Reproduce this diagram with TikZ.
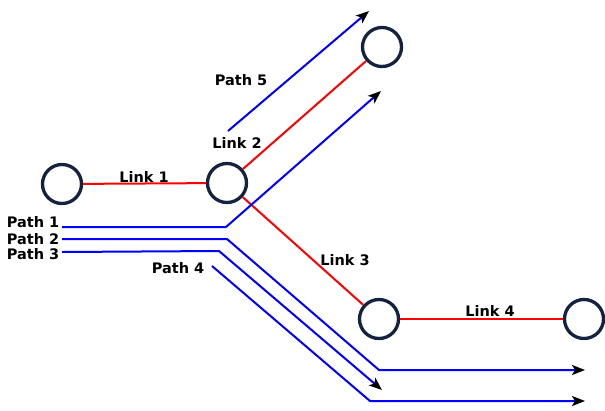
\documentclass[tikz,border=0pt]{standalone}
\usepackage{fontspec}
\setmainfont{DejaVu Sans}
\usetikzlibrary{arrows.meta}
\definecolor{navy}{HTML}{13233F}
\tikzset{
	router/.style={circle, draw=navy, line width=3.3pt, minimum size=39pt, inner sep=0pt},
	link/.style={red, line width=2pt},
	flow/.style={blue, line width=2pt},
	tip/.style={-{Stealth[black, length=13pt, width=10pt, inset=3pt]}},
	lbl/.style={font=\fontsize{14.5}{16}\selectfont\bfseries, inner sep=0pt}
}
\begin{document}
\begin{tikzpicture}[x=1pt, y=-1pt]
		\useasboundingbox (0,0) rectangle (605,410);
		
		% Routers
		\node[router] (r1) at (62,184) {};
		\node[router] (r2) at (227,183) {};
		\node[router] (r3) at (382,47) {};
		\node[router] (r4) at (379,319) {};
		\node[router] (r5) at (584,319) {};
		
		% Links
		\draw[link] (r1) -- (r2);
		\draw[link] (r2) -- (r3);
		\draw[link] (r2) -- (r4);
		\draw[link] (r4) -- (r5);
		
		\node[lbl] (l1) at (144,177) {Link 1};
		\node[lbl] (l2) at (237,143) {Link 2};
		\node[lbl] (l3) at (345,260) {Link 3};
		\node[lbl] (l4) at (490,311) {Link 4};
		
		% Paths
		\coordinate (p1s) at (62,227);
		\coordinate (p1e) at (381,91);
		\coordinate (p2s) at (62,239);
		\coordinate (p2e) at (585,370);
		\coordinate (p3s) at (62,252);
		\coordinate (p3e) at (382,390);
		\coordinate (p4s) at (212,266);
		\coordinate (p4e) at (585,401);
		\coordinate (p5s) at (228,131);
		\coordinate (p5e) at (369,11);
		
		\draw[flow, tip] (p1s) -- (226,227) -- (p1e);
		\draw[flow, tip] (p2s) -- (227,239) -- (379,370) -- (p2e);
		\draw[flow, tip] (p3s) -- (219,251) -- (p3e);
		\draw[flow, tip] (p4s) -- (370,401) -- (p4e);
		\draw[flow, tip] (p5s) -- (p5e);
		
		\node[lbl] (t1) at (33,222) {Path 1};
		\node[lbl] (t2) at (33,239) {Path 2};
		\node[lbl] (t3) at (33,254) {Path 3};
		\node[lbl] (t4) at (178,268) {Path 4};
		\node[lbl] (t5) at (241,80) {Path 5};
	\end{tikzpicture}
\end{document}
